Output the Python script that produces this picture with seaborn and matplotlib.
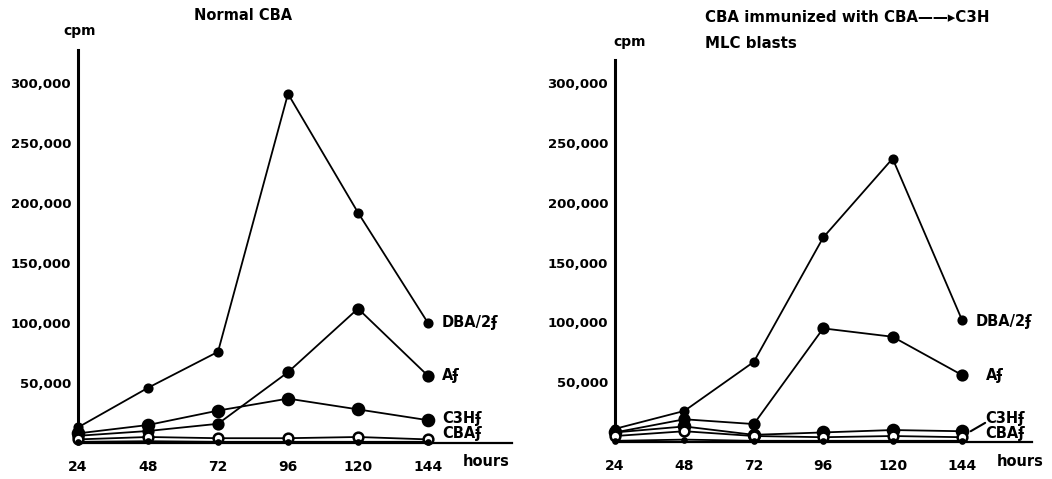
import numpy as np
import pandas as pd
import matplotlib
matplotlib.use("Agg")
import matplotlib.pyplot as plt
import seaborn as sns

# data (cpm per hour of culture)
HOURS = [24, 48, 72, 96, 120, 144]

# Normal CBA
NORMAL_DBA2 = [13000, 46000, 76000, 291000, 192000, 100000]
NORMAL_A = [6000, 10000, 16000, 59000, 112000, 56000]
NORMAL_C3H = [8000, 15000, 27000, 37000, 28000, 19000]
NORMAL_CBA = [3000, 5000, 4000, 4000, 5000, 3000]
NORMAL_BASE = [1000, 1500, 1000, 1000, 1000, 1000]

# CBA immunized with CBA -> C3H MLC blasts
IMMUNE_DBA2 = [11000, 26000, 67000, 171000, 237000, 102000]
IMMUNE_A = [8000, 19000, 15000, 95000, 88000, 56000]
IMMUNE_C3H = [8000, 13000, 6000, 8000, 10000, 9000]
IMMUNE_CBA = [5000, 9000, 5000, 4000, 5000, 4000]
IMMUNE_BASE = [1000, 2000, 1000, 1000, 1000, 1000]

Y_TICKS = [50000, 100000, 150000, 200000, 250000, 300000]
Y_TICK_LABELS = ["50,000", "100,000", "150,000", "200,000", "250,000", "300,000"]
SERIES_NAMES = ["DBA/2ʄ", "Aʄ", "C3Hʄ", "CBAʄ", "base"]

sns.set_style("white")
plt.rcParams["font.family"] = ["DejaVu Sans"]
for key in ["text.color", "xtick.color", "ytick.color", "axes.labelcolor"]:
    plt.rcParams[key] = "black"

# marker look per series: (size, face)
STYLES = {
    "DBA/2ʄ": (5.5, "black"),
    "Aʄ": (7, "black"),
    "C3Hʄ": (8, "black"),
    "CBAʄ": (7, "white"),
    "base": (3, "black"),
}

fig = plt.figure(figsize=(10.52, 4.79), dpi=100)


def draw_panel(ax, series, xmax, ymax, label_pos):
    for name, vals in zip(SERIES_NAMES, series):
        ms, face = STYLES[name]
        df = pd.DataFrame({"hours": HOURS, "cpm": vals})
        sns.lineplot(data=df, x="hours", y="cpm", ax=ax, color="black",
                     linewidth=1.3, marker="o", markersize=ms,
                     markerfacecolor=face, markeredgecolor="black",
                     markeredgewidth=1.8, clip_on=False, zorder=3)
    for name, (dx, ly) in label_pos.items():
        ax.annotate(name, xy=(HOURS[-1], ly), xytext=(dx, 0),
                    textcoords="offset points", va="center", ha="left",
                    fontsize=10.5, fontweight="bold", annotation_clip=False)
    ax.set_xlim(24, xmax)
    ax.set_ylim(0, ymax)
    ax.set_xticks(HOURS)
    ax.set_xticklabels([str(h) for h in HOURS], fontsize=10, fontweight="bold")
    ax.set_yticks(Y_TICKS)
    ax.set_yticklabels(Y_TICK_LABELS, fontsize=9.5, fontweight="bold")
    ax.tick_params(axis="x", direction="out", length=6, width=2, pad=6)
    ax.tick_params(axis="y", direction="out", length=4, width=1.5, pad=1)
    ax.set_xlabel("")
    ax.set_ylabel("")
    for side in ["top", "right"]:
        ax.spines[side].set_visible(False)
    ax.spines["left"].set_linewidth(2.2)
    ax.spines["bottom"].set_linewidth(1.6)
    ax.spines["left"].set_color("black")
    ax.spines["bottom"].set_color("black")
    ax.patch.set_alpha(0)


ax1 = fig.add_axes([78 / 1052, 36 / 479, 434 / 1052, 393 / 479])
draw_panel(ax1,
           [NORMAL_DBA2, NORMAL_A, NORMAL_C3H, NORMAL_CBA, NORMAL_BASE],
           172.8, 327500,
           {"DBA/2ʄ": (10, 100000), "Aʄ": (10, 56000),
            "C3Hʄ": (10, 20500), "CBAʄ": (10, 8000)})

ax2 = fig.add_axes([615 / 1052, 37 / 479, 417 / 1052, 382 / 479])
draw_panel(ax2,
           [IMMUNE_DBA2, IMMUNE_A, IMMUNE_C3H, IMMUNE_CBA, IMMUNE_BASE],
           168.2, 319400,
           {"DBA/2ʄ": (10, 101000), "Aʄ": (17, 56000),
            "C3Hʄ": (17, 20000), "CBAʄ": (17, 7500)})
# leader line from the C3H label to its curve
ax2.plot([147, 152], [9000, 16000], color="black", linewidth=1.5, clip_on=False)

# titles and axis names
fig.text(243 / 1052, 1 - 16 / 479, "Normal CBA", ha="center", va="center",
         fontsize=10.5, fontweight="bold")
fig.text(80 / 1052, 1 - 31 / 479, "cpm", ha="center", va="center",
         fontsize=10, fontweight="bold")
fig.text(705 / 1052, 1 - 17 / 479, "CBA immunized with CBA\u2014\u2014\u25b8C3H",
         ha="left", va="center", fontsize=10.8, fontweight="bold")
fig.text(705 / 1052, 1 - 43 / 479, "MLC blasts", ha="left", va="center",
         fontsize=10.8, fontweight="bold")
fig.text(630 / 1052, 1 - 42 / 479, "cpm", ha="center", va="center",
         fontsize=10, fontweight="bold")
fig.text(486 / 1052, 1 - 462 / 479, "hours", ha="center", va="center",
         fontsize=10.5, fontweight="bold")
fig.text(1020 / 1052, 1 - 462 / 479, "hours", ha="center", va="center",
         fontsize=10.5, fontweight="bold")

fig.savefig("out.png", dpi=100, facecolor="white")
